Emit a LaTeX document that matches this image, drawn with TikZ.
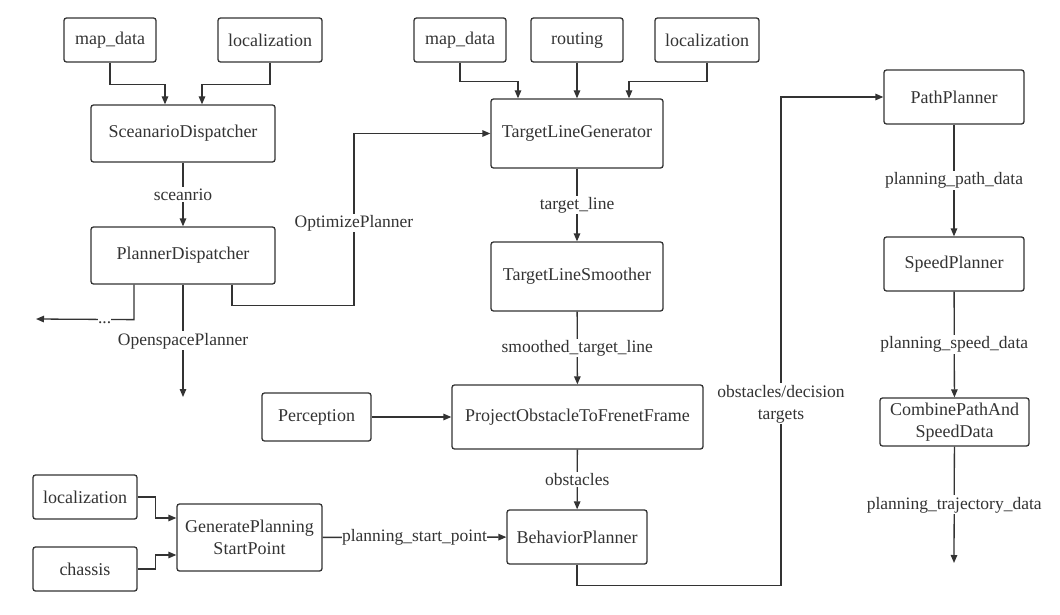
\documentclass[tikz,border=0pt]{standalone}
\usepackage{fontspec}
\setmainfont{Liberation Serif}
\usetikzlibrary{arrows.meta}
\definecolor{lineg}{HTML}{333333}

\begin{document}
\begin{tikzpicture}[x=1pt,y=-1pt,line width=1.3pt,draw=lineg,text=lineg,
    >={Triangle[length=8pt,width=6.5pt]},
    box/.style={draw,rounded corners=2.5pt,align=center,inner sep=0pt,
        font=\fontsize{18}{22}\selectfont},
    lbl/.style={fill=white,align=center,inner sep=1.5pt,
        font=\fontsize{17.5}{22}\selectfont}]
\useasboundingbox (0,0) rectangle (1060,615);

% inputs, top row
\node [box,minimum width=92pt,minimum height=44pt]  (mapdataA) at ( 110, 40) {map\_data};
\node [box,minimum width=104pt,minimum height=44pt] (locA)     at ( 270, 40) {localization};
\node [box,minimum width=92pt,minimum height=44pt]  (mapdataB) at ( 460, 40) {map\_data};
\node [box,minimum width=92pt,minimum height=44pt]  (routing)  at ( 577, 40) {routing};
\node [box,minimum width=104pt,minimum height=44pt] (locB)     at ( 707, 40) {localization};

% dispatchers
\node [box,minimum width=184pt,minimum height=57pt] (scndisp)  at ( 183,133.5) {SceanarioDispatcher};
\node [box,minimum width=184pt,minimum height=57pt] (plandisp) at ( 183,255.5) {PlannerDispatcher};

% middle column
\node [box,minimum width=172pt,minimum height=69pt] (tlgen)    at ( 577,133.5) {TargetLineGenerator};
\node [box,minimum width=172pt,minimum height=69pt] (tlsmooth) at ( 577,276.5) {TargetLineSmoother};
\node [box,minimum width=109pt,minimum height=48pt] (percep)   at (316.5,417) {Perception};
\node [box,minimum width=251pt,minimum height=64pt] (projobs)  at (577.5,417) {ProjectObstacleToFrenetFrame};
\node [box,minimum width=140pt,minimum height=54pt] (behav)    at ( 577,537) {BehaviorPlanner};

% start point
\node [box,minimum width=104pt,minimum height=44pt] (locC)     at (  85,497) {localization};
\node [box,minimum width=104pt,minimum height=44pt] (chassis)  at (  85,569) {chassis};
\node [box,minimum width=145pt,minimum height=67pt] (genstart) at (249.5,537.5) {GeneratePlanning\\StartPoint};

% right column
\node [box,minimum width=140pt,minimum height=54pt] (pathpl)   at ( 954, 97) {PathPlanner};
\node [box,minimum width=140pt,minimum height=54pt] (speedpl)  at ( 954,264) {SpeedPlanner};
\node [box,minimum width=149pt,minimum height=48pt] (combine)  at (954.5,422) {CombinePathAnd\\SpeedData};

\coordinate (leftout)  at ( 36,319);
\coordinate (openout)  at (183,397);
\coordinate (trajout)  at (954,563);

\draw [->] (mapdataA.south) -- ++(0,22) -| ([xshift=-18pt]scndisp.north);
\draw [->] (locA.south) -- ++(0,22) -| ([xshift=19pt]scndisp.north);
\draw [->] (scndisp) -- node[lbl] {sceanrio} (plandisp);
\draw [->] ([xshift=-49pt]plandisp.south) -- ++(0,35)
    -- node[lbl,pos=0.3,inner sep=0pt] {\strut...} (leftout);
\draw [->] (plandisp) -- node[lbl] {OpenspacePlanner} (openout);
\draw [->] ([xshift=49pt]plandisp.south) -- ++(0,21) -- ++(122,0)
    |- node[lbl,pos=0.24] {OptimizePlanner} (tlgen.west);

\draw [->] (mapdataB.south) -- ++(0,19) -| ([xshift=-59pt]tlgen.north);
\draw [->] (routing) -- (tlgen);
\draw [->] (locB.south) -- ++(0,19) -| ([xshift=52pt]tlgen.north);
\draw [->] (tlgen) -- node[lbl] {target\_line} (tlsmooth);
\draw [->] (tlsmooth) -- node[lbl] {smoothed\_target\_line} (projobs);
\draw [->] (percep) -- (projobs);
\draw [->] (projobs) -- node[lbl] {obstacles} (behav);

\draw [->] (locC.east) -- ++(18,0) |- ([yshift=19.5pt]genstart.west);
\draw [->] (chassis.east) -- ++(18,0) |- ([yshift=-17.5pt]genstart.west);
\draw [->] (genstart) -- node[lbl,inner sep=0pt] {planning\_start\_point} (behav);

\draw [->] (behav.south) -- ++(0,21) -- ++(204,0)
    |- node[lbl,pos=0.186] {obstacles/decision\\targets} (pathpl.west);
\draw [->] (pathpl) -- node[lbl] {planning\_path\_data} (speedpl);
\draw [->] (speedpl) -- node[lbl] {planning\_speed\_data} (combine);
\draw [->] (combine) -- node[lbl] {planning\_trajectory\_data} (trajout);
\end{tikzpicture}
\end{document}
